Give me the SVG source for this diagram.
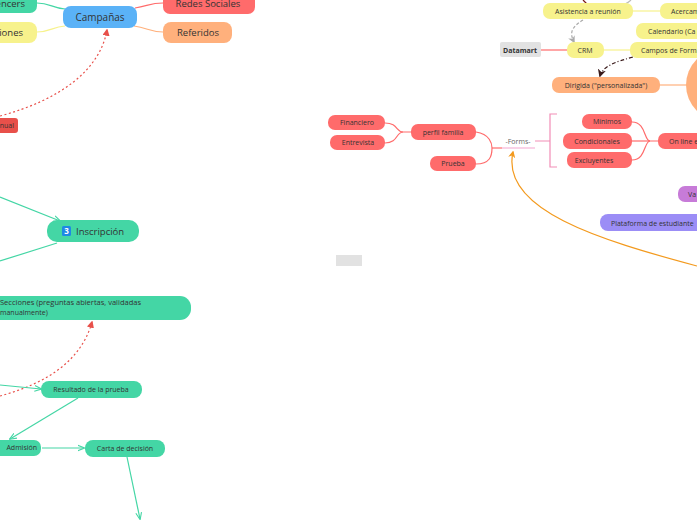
<svg xmlns="http://www.w3.org/2000/svg" width="697" height="520" viewBox="0 0 697 520">
<style>
.t{font-family:"Open Sans","Noto Sans","Liberation Sans",sans-serif;fill:#333;}
.s{font-size:7.5px;}
.m{font-size:9.5px;}
.g{fill:#44D6A5;}
.r{fill:#FF6B6B;}
.o{fill:#FFB07C;}
.y{fill:#F7F28C;}
.c{fill:none;stroke-width:1.2;}
</style>
<defs>
<marker id="ag" viewBox="0 0 10 10" refX="9" refY="5" markerWidth="6" markerHeight="6" orient="auto"><path d="M0,1 L10,5 L0,9" fill="none" stroke="#44D6A5" stroke-width="1.5"/></marker>
<marker id="ar" viewBox="0 0 10 10" refX="8" refY="5" markerWidth="6" markerHeight="6" orient="auto"><path d="M0,0 L10,5 L0,10 Z" fill="#E8504A"/></marker>
<marker id="ak" viewBox="0 0 10 10" refX="8" refY="5" markerWidth="7" markerHeight="7" orient="auto"><path d="M0,0 L10,5 L0,10 L3,5 Z" fill="#3a1a1a"/></marker>
<marker id="ay" viewBox="0 0 10 10" refX="8" refY="5" markerWidth="6" markerHeight="6" orient="auto"><path d="M0,0 L10,5 L0,10 L3,5 Z" fill="#aaa"/></marker>
<marker id="ao" viewBox="0 0 10 10" refX="8" refY="5" markerWidth="6" markerHeight="6" orient="auto"><path d="M0,0 L10,5 L0,10 L3,5 Z" fill="#F39A1E"/></marker>
</defs>
<rect width="697" height="520" fill="#fff"/>
<g id="connectors">
<path class="c" d="M37,3 C50,3 52,8 65,9" stroke="#44D6A5"/>
<path class="c" d="M37,32 C50,32 52,27 65,26" stroke="#F7F28C"/>
<path class="c" d="M135,8 C148,6 150,3 163,3" stroke="#FF6B6B"/>
<path class="c" d="M134,26 C148,28 150,32 163,32" stroke="#FFB07C"/>
<path class="c" d="M0,116 C60,100 100,70 107,30" stroke="#E8504A" stroke-dasharray="2,2.5" marker-end="url(#ar)"/>
<path class="c" d="M0,197 L60,221" stroke="#44D6A5" marker-end="url(#ag)"/>
<path class="c" d="M0,261 L57,243" stroke="#44D6A5"/>
<path class="c" d="M0,396 C40,385 80,365 92,322" stroke="#E8504A" stroke-dasharray="2,2.5" marker-end="url(#ar)"/>
<path class="c" d="M0,385 L41,389" stroke="#44D6A5" marker-end="url(#ag)"/>
<path class="c" d="M78,398 L10,439" stroke="#44D6A5" marker-end="url(#ag)"/>
<path class="c" d="M42,448 L84,448" stroke="#44D6A5" marker-end="url(#ag)"/>
<path class="c" d="M127,457 L140,519" stroke="#44D6A5" marker-end="url(#ag)"/>
<path class="c" d="M411,132 L403,132 C396,132 398,123 385,123" stroke="#FF6B6B"/>
<path class="c" d="M403,132 C396,132 398,143 385,143" stroke="#FF6B6B"/>
<path class="c" d="M476,132 C490,134 492,144 492,148 C492,156 490,164 476,164" stroke="#FF6B6B"/>
<path class="c" d="M492,148 L502,148" stroke="#FF6B6B"/>
<path class="c" d="M502,148 L535,148" stroke="#F4A6CF"/>
<path class="c" d="M535,141 L544,141 M557,114 L550,114 L550,167 L557,167 M544,141 L550,141" stroke="#F28DB6"/>
<path class="c" d="M658,141 L650,141 C644,141 646,122 632,122" stroke="#FF6B6B"/>
<path class="c" d="M650,141 C644,141 646,160 632,160" stroke="#FF6B6B"/>
<path class="c" d="M650,141 L632,141" stroke="#FF6B6B"/>
<path class="c" d="M633,11 L660,11" stroke="#F7F28C"/>
<path class="c" d="M604,50 L630,50" stroke="#F7F28C"/>
<path class="c" d="M541,50 L567,50" stroke="#FF6B6B"/>
<path class="c" d="M660,85 L687,85" stroke="#FFB07C"/>
<path class="c" d="M583,0 L587,4" stroke="#7a1a1a" stroke-width="2.5"/>
<path class="c" d="M631,0 C629,2 627,3 625,4" stroke="#bbb"/>
<path class="c" d="M583,20 C570,28 570,34 574,42" stroke="#aaa" stroke-dasharray="3,2" marker-end="url(#ay)"/>
<path class="c" d="M633,57 C615,62 603,66 600,76" stroke="#3a1a1a" stroke-width="1.5" stroke-dasharray="4,2,1,2" marker-end="url(#ak)"/>
<path class="c" d="M697,266 C600,240 500,210 513,152" stroke="#F39A1E" stroke-width="1.5" marker-end="url(#ao)"/>
</g>
<g id="campanas"><rect x="63" y="6" width="74" height="22" rx="8" fill="#5AB2F7"/><text class="t" x="100" y="21" font-size="10" text-anchor="middle">Campañas</text></g>
<g id="redes"><rect x="163" y="-6" width="92" height="20" rx="7" class="r"/><text class="t" x="208" y="7" font-size="9.5" text-anchor="middle">Redes Sociales</text></g>
<g id="referidos"><rect x="163" y="22" width="69" height="21" rx="8" class="o"/><text class="t" x="198" y="36" font-size="9.5" text-anchor="middle">Referidos</text></g>
<g id="influencers"><rect x="-40" y="-6" width="77" height="19" rx="7" class="g"/><text class="t" x="25" y="7" font-size="9.5" text-anchor="end">Influencers</text></g>
<g id="activaciones"><rect x="-40" y="22" width="77" height="21" rx="8" class="y"/><text class="t" x="23" y="36" font-size="9.5" text-anchor="end">Activaciones</text></g>
<g id="manual"><rect x="-40" y="118" width="58" height="15" rx="3" fill="#E8504A"/><text class="t" x="14" y="128" font-size="7" text-anchor="end">Manual</text></g>
<g id="inscripcion"><rect x="47" y="220" width="92" height="22" rx="10" class="g"/><rect x="62" y="226" width="9" height="10" rx="1.5" fill="#1E88E5"/><text x="66.5" y="234" font-size="8" text-anchor="middle" fill="#fff" font-family="'Open Sans',sans-serif" font-weight="bold">3</text><text class="t" x="76" y="235" font-size="9.5">Inscripción</text></g>
<g id="secciones"><rect x="-40" y="296" width="231" height="24" rx="11" class="g"/><text class="t s" x="0" y="305" font-size="7">Secciones (preguntas abiertas, validadas</text><text class="t" x="0" y="315" font-size="7">manualmente)</text></g>
<g id="resultado"><rect x="41" y="381" width="101" height="17" rx="8" class="g"/><text class="t" x="91" y="392" font-size="7" text-anchor="middle">Resultado de la prueba</text></g>
<g id="admision"><rect x="-40" y="440" width="81" height="16" rx="7" class="g"/><text class="t" x="37" y="450" font-size="7" text-anchor="end">Admisión</text></g>
<g id="carta"><rect x="85" y="440" width="80" height="17" rx="8" class="g"/><text class="t" x="125" y="451" font-size="7" text-anchor="middle">Carta de decisión</text></g>
<g id="gris"><rect x="336" y="255" width="26" height="11" fill="#E2E2E2"/></g>
<g id="perfil"><rect x="411" y="124" width="65" height="16" rx="7" class="r"/><text class="t" x="443" y="135" font-size="7" text-anchor="middle">perfil familia</text></g>
<g id="financiero"><rect x="328" y="115" width="57" height="15" rx="7" class="r"/><text class="t" x="357" y="125" font-size="7" text-anchor="middle">Financiero</text></g>
<g id="entrevista"><rect x="330" y="135" width="55" height="15" rx="7" class="r"/><text class="t" x="358" y="145" font-size="7" text-anchor="middle">Entrevista</text></g>
<g id="prueba"><rect x="430" y="156" width="46" height="15" rx="7" class="r"/><text class="t" x="453" y="166" font-size="7" text-anchor="middle">Prueba</text></g>
<g id="forms"><text class="t" x="518" y="144" font-size="7" text-anchor="middle" fill="#666" style="fill:#666">-Forms-</text></g>
<g id="minimos"><rect x="582" y="114" width="50" height="15" rx="7" class="r"/><text class="t" x="607" y="124" font-size="7" text-anchor="middle">Mínimos</text></g>
<g id="condicionales"><rect x="563" y="133" width="69" height="16" rx="7" class="r"/><text class="t" x="597" y="144" font-size="7" text-anchor="middle">Condicionales</text></g>
<g id="excluyentes"><rect x="567" y="152" width="65" height="16" rx="7" class="r"/><text class="t" x="594" y="163" font-size="7" text-anchor="middle">Excluyentes</text></g>
<g id="online"><rect x="658" y="133" width="60" height="16" rx="7" class="r"/><text class="t" x="669" y="144" font-size="7">On line e</text></g>
<g id="asistencia"><rect x="543" y="3" width="90" height="16" rx="7" class="y"/><text class="t" x="588" y="14" font-size="7" text-anchor="middle">Asistencia a reunión</text></g>
<g id="acercam"><rect x="660" y="3" width="60" height="16" rx="7" class="y"/><text class="t" x="671" y="14" font-size="7">Acercam</text></g>
<g id="calendario"><rect x="636" y="23" width="80" height="16" rx="7" class="y"/><text class="t" x="648" y="34" font-size="7">Calendario (Ca</text></g>
<g id="crm"><rect x="567" y="42" width="37" height="16" rx="7" class="y"/><text class="t" x="585" y="53" font-size="7" text-anchor="middle">CRM</text></g>
<g id="campos"><rect x="630" y="42" width="80" height="16" rx="7" class="y"/><text class="t" x="641" y="53" font-size="7">Campos de Form</text></g>
<g id="datamart"><rect x="500" y="42" width="41" height="15" rx="2" fill="#E2E2E2"/><text class="t" x="520" y="53" font-size="7" font-weight="bold" text-anchor="middle">Datamart</text></g>
<g id="dirigida"><rect x="552" y="77" width="108" height="16" rx="7" class="o"/><text class="t" x="606" y="88" font-size="7" text-anchor="middle">Dirigida ("personalizada")</text></g>
<g id="circulo"><circle cx="722" cy="85" r="36" class="o"/></g>
<g id="va"><rect x="678" y="186" width="40" height="16" rx="7" fill="#C77BD8"/><text class="t" x="688" y="197" font-size="7">Va</text></g>
<g id="plataforma"><rect x="600" y="214" width="110" height="17" rx="8" fill="#9B8DF6"/><text class="t" x="611" y="226" font-size="7">Plataforma de estudiante</text></g>
</svg>
